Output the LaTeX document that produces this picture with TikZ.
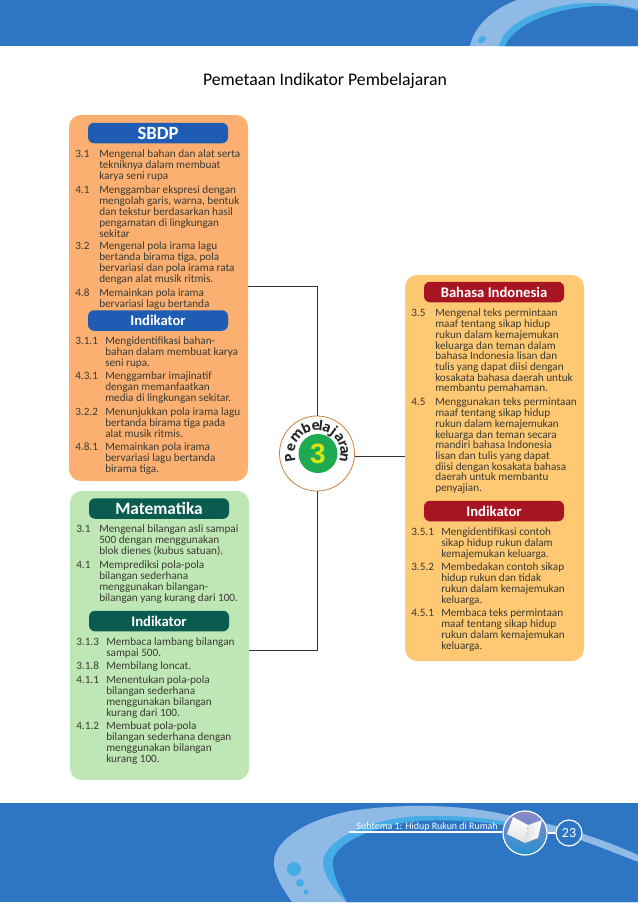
\documentclass[tikz,border=0pt]{standalone}
\usepackage{fontspec}
\setmainfont{Carlito}
\newfontfamily\boldnum{Liberation Sans}[BoldFont={Liberation Sans Bold}]
\newfontfamily\ringfont{Open Sans}
\usetikzlibrary{positioning,calc}
\definecolor{bannerblue}{HTML}{2E76C4}
\definecolor{swooshlight}{HTML}{8FBAE6}
\definecolor{swooshcyan}{HTML}{45ACE6}
\definecolor{panelorange}{HTML}{FBB071}
\definecolor{panelgreen}{HTML}{BFE6B5}
\definecolor{panelyellow}{HTML}{FFC872}
\definecolor{headblue}{HTML}{1F5DB4}
\definecolor{headgreen}{HTML}{0B5C50}
\definecolor{headred}{HTML}{A81522}
\definecolor{inktext}{HTML}{3A3A32}
\definecolor{ringgreen}{HTML}{1DAA50}
\definecolor{ringyellow}{HTML}{D8E80F}
\definecolor{ringedge}{HTML}{C9823F}
\def\pxu{0.75pt}
\tikzset{
  panel/.style={rectangle,rounded corners=9pt,minimum width=179*\pxu,inner sep=0pt},
  header/.style={rectangle,rounded corners=4.5pt,minimum width=140*\pxu,minimum height=20.5*\pxu,inner sep=0pt,text=white},
  numtext/.style={anchor=north west,inner sep=0pt,text=inktext,font=\fontsize{8.4pt}{8.18pt}\selectfont},
  bodytext/.style={numtext,align=left},
  bodytextr/.style={anchor=north west,inner sep=0pt,text=inktext,align=left,font=\fontsize{8.4pt}{8.06pt}\selectfont},
  link/.style={draw=black!80,line width=0.75pt},
}
% name, x number, x text, y of first line centre, number, lines
\newcommand\entryL[6]{%
  \node[numtext] (n#1) at (#2,#4-5.3) {\rule{0pt}{6.6pt}#5};
  \node[bodytext] (t#1) at (#3,#4-5.3) {\rule{0pt}{6.6pt}#6};}
\newcommand\entryR[6]{%
  \node[numtext] (n#1) at (#2,#4-5.3) {\rule{0pt}{6.6pt}#5};
  \node[bodytextr] (t#1) at (#3,#4-5.3) {\rule{0pt}{6.6pt}#6};}
\begin{document}
\begin{tikzpicture}[x=\pxu,y=-\pxu]
\useasboundingbox (0,0) rectangle (638,903);
\fill[white] (0,0) rectangle (638,903);
% top banner
\begin{scope}
\clip (0,0) rectangle (638,46);
\fill[bannerblue] (0,0) rectangle (638,46);
\fill[swooshlight] (470,46) .. controls (474,25) and (495,8) .. (517,0) -- (638,0) -- (638,46) -- cycle;
\fill[swooshcyan] (499,46) .. controls (503,25) and (540,4) .. (590,3) .. controls (610,3) and (625,6) .. (638,9) -- (638,46) -- cycle;
\fill[bannerblue] (505,46) .. controls (512,28) and (550,6) .. (605,6) .. controls (620,6) and (630,8) .. (638,11) -- (638,46) -- cycle;
\fill[swooshcyan,rotate around={40:(482,39.5)}] (482,39.5) ellipse (4.5 and 3);
\end{scope}
% bottom banner
\fill[bannerblue] (0,803) rectangle (638,902);
\begin{scope}
\clip (0,803) rectangle (638,902);
\fill[swooshlight] (292,902) .. controls (280,885) and (273,872) .. (274,860) .. controls (276,840) and (305,820) .. (350,811) .. controls (410,802) and (470,806) .. (507,815) .. controls (560,825) and (600,838) .. (638,855) -- (638,902) -- cycle;
\fill[swooshcyan] (346,902) .. controls (330,885) and (322,872) .. (323,860) .. controls (326,840) and (370,818) .. (420,816) .. controls (470,815) and (500,820) .. (530,826) -- (638,862) -- (638,902) -- cycle;
\fill[bannerblue] (347,902) .. controls (338,885) and (332,872) .. (333,860) .. controls (336,845) and (370,825) .. (420,821) .. controls (470,818) and (520,826) .. (580,840) .. controls (600,847) and (620,855) .. (638,862) -- (638,902) -- cycle;
\fill[swooshcyan] (294,869) circle (7);
\fill[swooshcyan] (300,883) circle (4);
\fill[swooshcyan] (306,892) circle (2.6);
\end{scope}
\node[inner sep=0pt,text=white,anchor=base east,font=\fontsize{7.45pt}{8pt}\selectfont] (subtema) at (498,829) {Subtema 1: Hidup Rukun di Rumah};
\coordinate (sub) at (349,832);
\node[circle,draw=white,line width=0.9pt,minimum size=44*\pxu,inner sep=0pt,top color=headblue!60!violet!60,bottom color=bannerblue!80!cyan] (bookc) at (525,833) {};
\draw[white,line width=0.9pt] (sub) -- (sub -| bookc.west);
\shade[top color=white,bottom color=black!12] (513,817) -- (528,825) -- (525,843) -- (507,834) -- cycle;
\shade[left color=black!12,right color=white] (528,825) -- (542,820) -- (538,838) -- (525,843) -- cycle;
\node[circle,draw=white,line width=0.9pt,fill=bannerblue,minimum size=26*\pxu,inner sep=0pt,text=white,font=\fontsize{10.5pt}{10pt}\selectfont] (pageno) at (569,833) {23};
\draw[white,line width=0.9pt] (bookc.east) -- (pageno.west);
% title
\node[inner sep=0pt,text=black,font=\fontsize{13.3pt}{14pt}\selectfont] (title) at (325,81) {Pemetaan Indikator Pembelajaran};
% panels
\node[panel,fill=panelorange,minimum height=366*\pxu] (sbdp) at (158.5,298) {};
\node[panel,fill=panelgreen,minimum height=289*\pxu] (mat) at (159.5,635.5) {};
\node[panel,fill=panelyellow,minimum height=386*\pxu] (bind) at (494.5,468) {};
\node[header,fill=headblue,font=\bfseries\fontsize{14pt}{14pt}\selectfont] (h1) at (158,133) {SBDP};
\node[header,fill=headblue,font=\bfseries\fontsize{11pt}{14pt}\selectfont] (h2) at (158,320.5) {Indikator};
\node[header,fill=headgreen,font=\bfseries\fontsize{13pt}{14pt}\selectfont] (h3) at (159,508.5) {Matematika};
\node[header,fill=headgreen,font=\bfseries\fontsize{11pt}{14pt}\selectfont] (h4) at (159,621) {Indikator};
\node[header,fill=headred,font=\bfseries\fontsize{11pt}{14pt}\selectfont] (h5) at (494,292) {Bahasa Indonesia};
\node[header,fill=headred,font=\bfseries\fontsize{11pt}{14pt}\selectfont] (h6) at (494,511) {Indikator};
% SBDP
\entryL{a1}{75}{99}{154}{3.1}{Mengenal bahan dan alat serta\\tekniknya dalam membuat\\karya seni rupa}
\entryL{a2}{75}{99}{190}{4.1}{Menggambar ekspresi dengan\\mengolah garis, warna, bentuk\\dan tekstur berdasarkan hasil\\pengamatan di lingkungan\\sekitar}
\entryL{a3}{75}{99}{246}{3.2}{Mengenal pola irama lagu\\bertanda birama tiga, pola\\bervariasi dan pola irama rata\\dengan alat musik ritmis.}
\entryL{a4}{75}{99}{293}{4.8}{Memainkan pola irama\\bervariasi lagu bertanda}
\entryL{a5}{75}{105}{341}{3.1.1}{Mengidentifikasi bahan-\\bahan dalam membuat karya\\seni rupa.}
\entryL{a6}{75}{105}{376}{4.3.1}{Menggambar imajinatif\\dengan memanfaatkan\\media di lingkungan sekitar.}
\entryL{a7}{75}{105}{412}{3.2.2}{Menunjukkan pola irama lagu\\bertanda birama tiga pada\\alat musik ritmis.}
\entryL{a8}{75}{105}{447}{4.8.1}{Memainkan pola irama\\bervariasi lagu bertanda\\birama tiga.}
% Matematika
\entryL{b1}{76}{99}{529}{3.1}{Mengenal bilangan asli sampai\\500 dengan menggunakan\\blok dienes (kubus satuan).}
\entryL{b2}{76}{99}{565}{4.1}{Memprediksi pola-pola\\bilangan sederhana\\menggunakan bilangan-\\bilangan yang kurang dari 100.}
\entryL{b3}{76}{106}{642}{3.1.3}{Membaca lambang bilangan\\sampai 500.}
\entryL{b4}{76}{106}{666}{3.1.8}{Membilang loncat.}
\entryL{b5}{76}{106}{680}{4.1.1}{Menentukan  pola-pola\\bilangan sederhana\\menggunakan bilangan\\kurang dari 100.}
\entryL{b6}{76}{106}{726}{4.1.2}{Membuat pola-pola\\bilangan sederhana dengan\\menggunakan bilangan\\kurang 100.}
% Bahasa Indonesia
\entryR{c1}{411}{435}{313}{3.5}{Mengenal teks permintaan\\maaf tentang sikap hidup\\rukun dalam kemajemukan\\keluarga dan teman dalam\\bahasa Indonesia lisan dan\\tulis yang dapat diisi dengan\\kosakata bahasa daerah untuk\\membantu pemahaman.}
\entryR{c2}{411}{435}{402}{4.5}{Menggunakan teks permintaan\\maaf tentang sikap hidup\\rukun dalam kemajemukan\\keluarga dan teman secara\\mandiri bahasa Indonesia\\lisan dan tulis yang dapat\\diisi dengan kosakata bahasa\\daerah untuk membantu\\penyajian.}
\entryR{c3}{411}{441}{532}{3.5.1}{Mengidentifikasi contoh\\sikap hidup rukun dalam\\kemajemukan keluarga.}
\entryR{c4}{411}{441}{567}{3.5.2}{Membedakan contoh sikap\\hidup rukun dan tidak\\rukun dalam kemajemukan\\keluarga.}
\entryR{c5}{411}{441}{613}{4.5.1}{Membaca teks permintaan\\maaf tentang sikap hidup\\rukun dalam kemajemukan\\keluarga.}
% hub
\node[circle,draw=ringedge,line width=0.6pt,fill=white,minimum size=75*\pxu,inner sep=0pt] (hub) at (317,453.5) {};
\node[circle,fill=ringgreen,minimum size=39*\pxu,inner sep=0pt,text=ringyellow,font=\boldnum\bfseries\fontsize{21pt}{22pt}\selectfont] (three) at (318,453.5) {3};
\foreach \ch/\ang in {P/189,e/167,m/140,b/114,e/94,l/83,a/70,j/53,a/36,r/20,a/7,n/-10}{
  \node[inner sep=0pt,rotate=\ang-90,text=black!85,font=\ringfont\bfseries\fontsize{10.4pt}{10pt}\selectfont,anchor=base] (L\ang) at ($(317.5,453.5)+(\ang:17.2pt)$) {\ch};
}
% connectors
\coordinate (sbdpout) at (sbdp.east |- 0,286);
\coordinate (matout) at (mat.east |- 0,650);
\coordinate (bindin) at (bind.west |- 0,456.5);
\draw[link] (sbdpout) -| (hub.north);
\draw[link] (matout) -| (hub.south);
\draw[link] (hub.east |- bindin) -- (bindin);
\end{tikzpicture}
\end{document}
